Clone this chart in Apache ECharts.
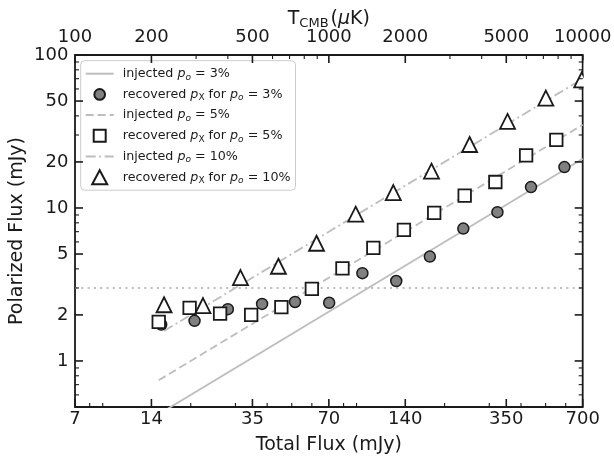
<!DOCTYPE html>
<html><head><meta charset="utf-8">
<script src="https://cdn.jsdelivr.net/npm/echarts@6/dist/echarts.min.js"></script>
<style>html,body{margin:0;padding:0;background:#fff}#c{width:614px;height:460px}</style>
</head><body><div id="c"></div>
<script>
// ---- tick values ----
const xMajor = [7, 14, 35, 70, 140, 350, 700];
const xMinor = [8, 9, 20, 30, 40, 50, 60, 80, 90, 200, 300, 400, 500, 600];
const yMajor = [1, 2, 5, 10, 20, 50, 100];
const yMinor = [0.6, 0.7, 0.8, 0.9, 3, 4, 6, 7, 8, 9, 30, 40, 60, 70, 80, 90];
const tMajor = [100, 200, 500, 1000, 2000, 5000, 10000];
const tMinor = [300, 400, 600, 700, 800, 900, 3000, 4000, 6000, 7000, 8000, 9000];

// ---- recovered points ----
const flux3 = [15.3, 20.7, 28.0, 38.2, 51.5, 70.2, 94.9, 129, 175, 237, 323, 438, 593];
const pol3  = [1.73, 1.83, 2.18, 2.36, 2.43, 2.40, 3.75, 3.33, 4.81, 7.33, 9.39, 13.7, 18.5];
const flux5 = [14.96, 19.8, 26.1, 34.6, 45.5, 60.0, 79.2, 104.8, 138.3, 182, 240, 317, 419, 551];
const pol5  = [1.80, 2.22, 2.04, 2.00, 2.25, 2.96, 4.03, 5.48, 7.19, 9.29, 12.06, 14.78, 22.1, 27.9];
const flux10 = [15.7, 22.35, 31.4, 44.3, 62.6, 89.3, 125.6, 177.6, 251, 354, 501, 694];
const pol10  = [2.33, 2.30, 3.51, 4.16, 5.88, 9.11, 12.6, 17.4, 26.0, 36.8, 52.3, 68.8];

// ---- injected lines (end points) and threshold ----
const inj3  = [[15.3, 0.459], [700, 21]];
const inj5  = [[14.96, 0.748], [700, 35]];
const inj10 = [[15.7, 1.57], [700, 70]];
const threshold = [[7, 3], [700, 3]];

const seriesNames = ['inj3', 'rec3', 'inj5', 'rec5', 'inj10', 'rec10'];
const legendLabels = {
  inj3:  'injected {i|p}{so|o} = 3%',
  rec3:  'recovered {i|p}{sx|X} for {i|p}{so|o} = 3%',
  inj5:  'injected {i|p}{so|o} = 5%',
  rec5:  'recovered {i|p}{sx|X} for {i|p}{so|o} = 5%',
  inj10: 'injected {i|p}{so|o} = 10%',
  rec10: 'recovered {i|p}{sx|X} for {i|p}{so|o} = 10%'
};

const FONT = "'DejaVu Sans', sans-serif";
const INK = '#1a1a1a';
const LINE = '#bdbdbd';
const MAJ = 8, MIN = 4;
const LFS = 12.7;

// legend icons (28 x 14 box, symbol centred)
const ICON_CIRCLE = 'path://M0,0M28,14M19.35,7A5.35,5.35,0,1,1,8.65,7A5.35,5.35,0,1,1,19.35,7Z';
const ICON_SQUARE = 'path://M0,0M28,14M8,1L20,1L20,13L8,13Z';
const ICON_TRI = 'path://M0,0M28,14M14,0L21.5,14L6.5,14Z';
const HIDDEN = { color: 'rgba(0,0,0,0)', borderWidth: 0, opacity: 0 };

function pairs(xs, ys) { return xs.map((x, i) => [x, ys[i]]); }

function tickLine(x1, y1, x2, y2, w) {
  return { type: 'line', shape: { x1, y1, x2, y2 }, style: { stroke: INK, lineWidth: w } };
}
function tickText(x, y, t, align) {
  return { type: 'text', x, y, style: { text: t, fill: INK, fontSize: 18, fontFamily: FONT, align, verticalAlign: 'middle' } };
}

const chart = echarts.init(document.getElementById('c'), null, { renderer: 'canvas' });

const option = {
  animation: false,
  backgroundColor: '#fff',
  grid: { left: 73.3, right: 31.3, top: 55, bottom: 51, show: true, borderColor: INK, borderWidth: 1.8, backgroundColor: 'transparent' },
  xAxis: [
    { type: 'log', logBase: 10, min: 7, max: 700, position: 'bottom',
      axisLine: { show: false }, axisTick: { show: false }, axisLabel: { show: false }, splitLine: { show: false },
      name: 'Total Flux (mJy)', nameLocation: 'middle', nameGap: 29,
      nameTextStyle: { fontSize: 19, fontFamily: FONT, color: INK } },
    { type: 'log', logBase: 10, min: 100, max: 10000, position: 'top',
      axisLine: { show: false }, axisTick: { show: false }, axisLabel: { show: false }, splitLine: { show: false },
      name: '{t|T}{s|CMB}{t|(}{m|μ}{t|K)}', nameLocation: 'middle', nameGap: 25,
      nameTextStyle: { fontSize: 19, fontFamily: FONT, color: INK,
        rich: {
          t: { fontSize: 19, fontFamily: FONT, color: INK, lineHeight: 22 },
          m: { fontSize: 19, fontFamily: FONT, color: INK, lineHeight: 22, fontStyle: 'italic' },
          s: { fontSize: 13, fontFamily: FONT, color: INK, lineHeight: 14, verticalAlign: 'bottom', padding: [0, 2, 0, 0] }
        } } }
  ],
  yAxis: [
    { type: 'log', logBase: 10, min: 0.5, max: 100,
      axisLine: { show: false }, axisTick: { show: false }, axisLabel: { show: false }, splitLine: { show: false },
      name: 'Polarized Flux (mJy)', nameLocation: 'middle', nameGap: 48,
      nameTextStyle: { fontSize: 19, fontFamily: FONT, color: INK } }
  ],
  legend: {
    data: [
      { name: 'inj3', itemStyle: HIDDEN },
      { name: 'rec3', icon: ICON_CIRCLE },
      { name: 'inj5', itemStyle: HIDDEN },
      { name: 'rec5', icon: ICON_SQUARE },
      { name: 'inj10', itemStyle: HIDDEN },
      { name: 'rec10', icon: ICON_TRI }
    ],
    orient: 'vertical', left: 80.7, top: 60.7,
    padding: [5, 5, 5, 4], itemGap: 4.7, itemWidth: 28, itemHeight: 14, symbolKeepAspect: false,
    backgroundColor: 'rgba(255,255,255,0.8)', borderColor: '#cccccc', borderWidth: 1, borderRadius: 4,
    formatter: n => legendLabels[n],
    textStyle: {
      fontFamily: FONT, fontSize: LFS, color: INK, lineHeight: 16, padding: [0, 0, 0, 4],
      rich: {
        i:  { fontFamily: FONT, fontSize: LFS, fontStyle: 'italic', color: INK, lineHeight: 16 },
        so: { fontFamily: FONT, fontSize: 9, fontStyle: 'italic', color: INK, lineHeight: 10, verticalAlign: 'bottom' },
        sx: { fontFamily: FONT, fontSize: 9, color: INK, lineHeight: 10, verticalAlign: 'bottom' }
      }
    }
  },
  graphic: [
    { type: 'rect', zlevel: 1, z: 100, shape: { x: 583.7, y: 60, width: 30, height: 40 }, style: { fill: '#fff' }, silent: true }
  ],
  series: [
    { type: 'line', name: 'threshold', data: threshold, symbol: 'none', silent: true, z: 1,
      lineStyle: { color: LINE, width: 2, type: [2, 4.3] } },
    { type: 'line', name: 'inj3', data: inj3, symbol: 'none', silent: true, z: 2,
      itemStyle: { color: LINE }, lineStyle: { color: LINE, width: 1.8, type: 'solid' } },
    { type: 'line', name: 'inj5', data: inj5, symbol: 'none', silent: true, z: 2,
      itemStyle: { color: LINE }, lineStyle: { color: LINE, width: 1.8, type: [8, 4] } },
    { type: 'line', name: 'inj10', data: inj10, symbol: 'none', silent: true, z: 2,
      itemStyle: { color: LINE }, lineStyle: { color: LINE, width: 1.8, type: [10, 3.5, 2, 3.5] } },
    { type: 'scatter', name: 'rec3', data: pairs(flux3, pol3), symbol: 'circle', symbolSize: 11, z: 4,
      itemStyle: { color: '#808080', borderColor: INK, borderWidth: 1.5, opacity: 1 } },
    { type: 'scatter', name: 'rec5', data: pairs(flux5, pol5), symbol: 'rect', symbolSize: 12.5, z: 4,
      itemStyle: { color: '#ffffff', borderColor: INK, borderWidth: 1.8, opacity: 1 } },
    { type: 'scatter', name: 'rec10', data: pairs(flux10, pol10), symbol: 'triangle', symbolSize: 15, z: 4,
      itemStyle: { color: '#ffffff', borderColor: INK, borderWidth: 1.8, opacity: 1 } },
    { type: 'custom', name: 'ticksMain', xAxisIndex: 0, yAxisIndex: 0, data: [[7, 1]], silent: true, z: 5,
      renderItem: function (params, api) {
        const els = [];
        const yb = api.coord([7, 0.5])[1];
        const xl = api.coord([7, 1])[0], xr = api.coord([700, 1])[0];
        xMajor.forEach(v => {
          const x = api.coord([v, 1])[0];
          els.push(tickLine(x, yb, x, yb - MAJ, 1.6));
          els.push(tickText(x, yb + 12.7, String(v), 'center'));
        });
        xMinor.forEach(v => {
          const x = api.coord([v, 1])[0];
          els.push(tickLine(x, yb, x, yb - MIN, 1.1));
        });
        yMajor.forEach(v => {
          const y = api.coord([7, v])[1];
          els.push(tickLine(xl, y, xl + MAJ, y, 1.6));
          els.push(tickLine(xr, y, xr - MAJ, y, 1.6));
          els.push(tickText(xl - 6.6, y, String(v), 'right'));
        });
        yMinor.forEach(v => {
          const y = api.coord([7, v])[1];
          els.push(tickLine(xl, y, xl + MIN, y, 1.1));
          els.push(tickLine(xr, y, xr - MIN, y, 1.1));
        });
        return { type: 'group', children: els };
      } },
    { type: 'custom', name: 'ticksTop', xAxisIndex: 1, yAxisIndex: 0, data: [[1000, 1]], silent: true, z: 5,
      renderItem: function (params, api) {
        const els = [];
        const yt = api.coord([1000, 100])[1];
        tMajor.forEach(v => {
          const x = api.coord([v, 1])[0];
          els.push(tickLine(x, yt, x, yt + MAJ, 1.6));
          els.push(tickText(x, yt - 17.5, String(v), 'center'));
        });
        tMinor.forEach(v => {
          const x = api.coord([v, 1])[0];
          els.push(tickLine(x, yt, x, yt + MIN, 1.1));
        });
        return { type: 'group', children: els };
      } }
  ]
};
chart.setOption(option);
</script>
</body></html>
